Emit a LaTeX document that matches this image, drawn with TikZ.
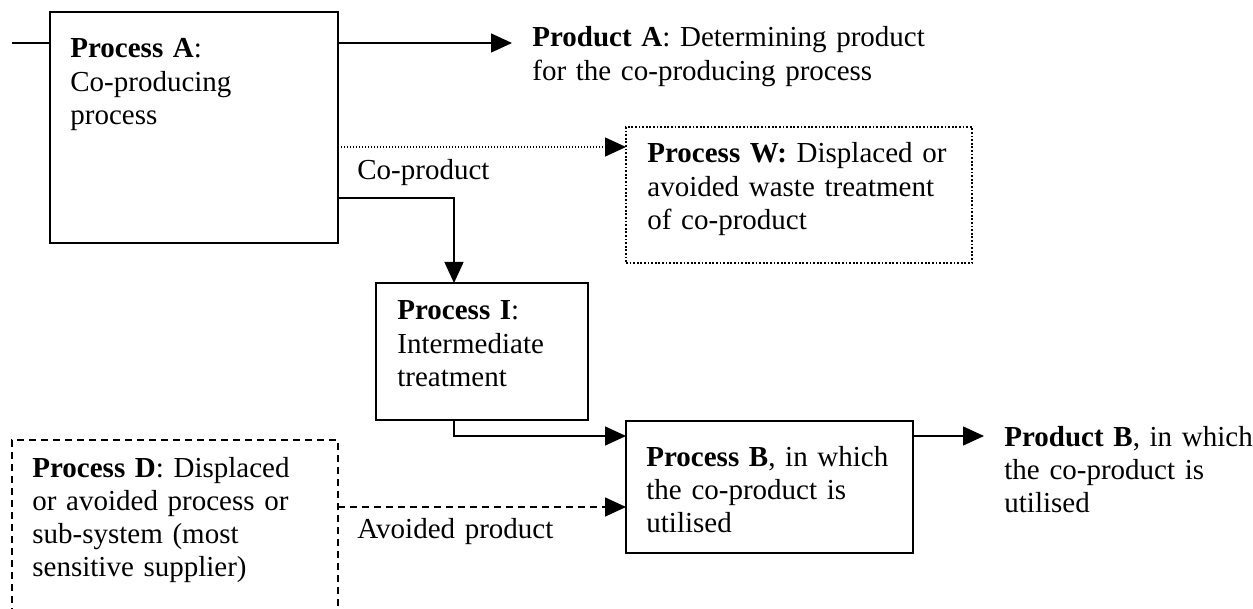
\documentclass[tikz,border=0pt]{standalone}
\usepackage{fontspec}
\setmainfont{Liberation Serif}
\usetikzlibrary{arrows.meta}
\begin{document}
\begin{tikzpicture}[x=0.5pt,y=-0.5pt,
  box/.style={draw, line width=1pt, inner sep=0pt, outer sep=0pt},
  dotbox/.style={box, line width=0.9pt, dash pattern=on 0.9pt off 0.9pt},
  dashbox/.style={box, line width=0.8pt, dash pattern=on 3.5pt off 2.5pt},
  txt/.style={anchor=base west, inner sep=0pt, align=left, text width=250pt,
    font=\fontsize{14.5pt}{16.6pt}\selectfont},
  prod/.style={txt, inner xsep=10pt},
  conn/.style={line width=0.7pt},
  arr/.style={conn, -{Triangle[length=10.5pt,width=9.5pt]}},
  dotarr/.style={arr, dash pattern=on 0.6pt off 0.9pt},
  dasharr/.style={arr, line width=0.75pt, dash pattern=on 3.5pt off 2.5pt}
]
\useasboundingbox (0,0) rectangle (1253,609);

% boxes
\node[box, minimum width=144pt, minimum height=115.5pt] (A) at (194,127.5) {};
\node[dotbox, minimum width=173pt, minimum height=68pt] (W) at (799,195) {};
\node[box, minimum width=106pt, minimum height=68.5pt] (I) at (482,351.5) {};
\node[box, minimum width=143.5pt, minimum height=66pt] (B) at (769.5,487) {};
\node[dashbox, minimum width=163pt, minimum height=100pt] (D) at (175,540) {};

% texts
\node[txt] (At) at (70,58) {\textbf{Process A}:\\Co-producing\\process};
\node[txt] (Wt) at (647,163) {\textbf{Process W:} Displaced or\\avoided waste treatment\\of co-product};
\node[txt] (It) at (397,320) {\textbf{Process I}:\\Intermediate\\treatment};
\node[txt] (Bt) at (646,466) {\textbf{Process B}, in which\\the co-product is\\utilised};
\node[txt] (Dt) at (32,477) {\textbf{Process D}: Displaced\\or avoided process or\\sub-system (most\\sensitive supplier)};
\node[prod] (prodA) at (512,47) {\textbf{Product A}: Determining product\\for the co-producing process};
\node[prod] (prodB) at (984,446) {\textbf{Product B}, in which\\the co-product is\\utilised};
\node[txt] (lcop) at (357,180) {Co-product};
\node[txt] (lavoid) at (357,538) {Avoided product};

% connector points
\coordinate (in) at (12,43);
\path ([yshift=-15.5pt]A.north east) coordinate (aout)
      ([yshift=-67.5pt]A.north east) coordinate (adot)
      ([yshift=-93pt]A.north east) coordinate (aco)
      ([yshift=-7.5pt]B.north west) coordinate (bin)
      ([yshift=-7.5pt]B.north east) coordinate (bout)
      ([yshift=-33.5pt]D.north east) coordinate (dout);

% connectors
\draw[conn] (in) -- (in -| A.west);
\draw[arr] (aout) -- (aout -| prodA.west);
\draw[dotarr] (adot) -- (adot -| W.west);
\draw[arr] (aco) -| ([xshift=-14pt]I.north);
\draw[arr] ([xshift=-14pt]I.south) |- (bin);
\draw[arr] (bout) -- (bout -| prodB.west);
\draw[dasharr] (dout) -- (dout -| B.west);
\end{tikzpicture}
\end{document}
